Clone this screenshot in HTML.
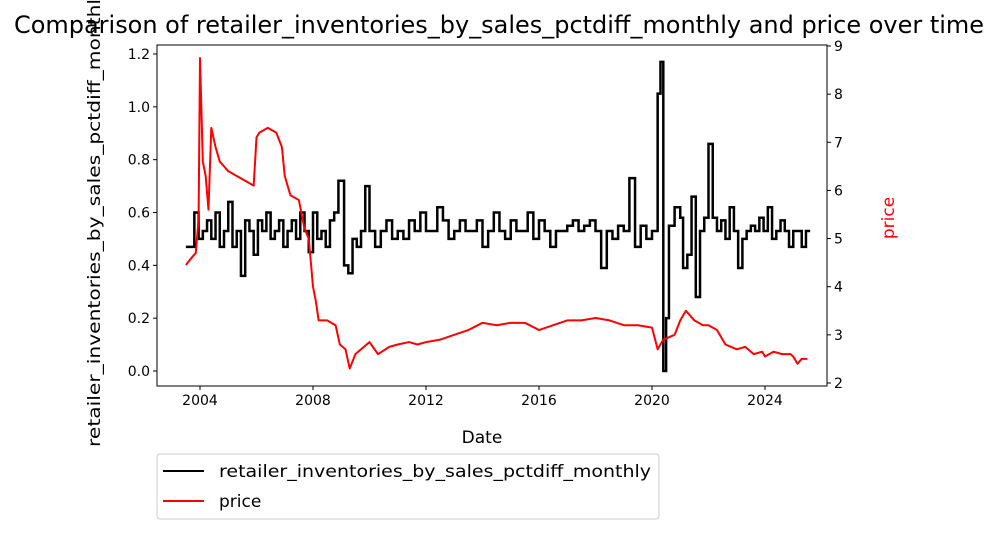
<!DOCTYPE html>
<html><head><meta charset="utf-8">
<style>
body{margin:0;background:#fff;font-family:"Liberation Sans","DejaVu Sans",sans-serif;overflow:hidden;}
svg{display:block;}
svg text{font-family:"DejaVu Sans","Liberation Sans",sans-serif;}
</style></head>
<body>
<svg id="chart" width="999" height="534" xmlns="http://www.w3.org/2000/svg"></svg>
<script>
const blackDates=[2003.5,2003.8,2003.95,2004.1,2004.25,2004.4,2004.55,2004.7,2004.85,2005.0,2005.15,2005.3,2005.45,2005.6,2005.75,2005.9,2006.05,2006.2,2006.35,2006.5,2006.65,2006.8,2006.95,2007.1,2007.25,2007.4,2007.55,2007.7,2007.85,2008.0,2008.15,2008.3,2008.45,2008.6,2008.75,2008.9,2009.1,2009.25,2009.4,2009.55,2009.7,2009.85,2010.0,2010.2,2010.4,2010.6,2010.8,2011.0,2011.2,2011.4,2011.6,2011.8,2012.0,2012.2,2012.4,2012.6,2012.8,2013.0,2013.2,2013.4,2013.6,2013.8,2014.0,2014.2,2014.4,2014.6,2014.8,2015.0,2015.2,2015.4,2015.6,2015.8,2016.0,2016.2,2016.4,2016.6,2016.8,2017.0,2017.2,2017.4,2017.6,2017.8,2018.0,2018.2,2018.4,2018.6,2018.8,2019.0,2019.2,2019.4,2019.6,2019.8,2020.0,2020.2,2020.3,2020.4,2020.5,2020.6,2020.8,2021.0,2021.1,2021.25,2021.4,2021.55,2021.7,2021.85,2022.0,2022.15,2022.3,2022.45,2022.6,2022.75,2022.9,2023.05,2023.2,2023.35,2023.5,2023.65,2023.8,2023.95,2024.1,2024.25,2024.4,2024.55,2024.7,2024.85,2025.0,2025.15,2025.3,2025.45];
const blackValues=[0.47,0.6,0.5,0.53,0.57,0.5,0.6,0.47,0.53,0.64,0.47,0.53,0.36,0.57,0.53,0.44,0.57,0.53,0.6,0.5,0.53,0.57,0.47,0.53,0.57,0.5,0.6,0.53,0.45,0.6,0.5,0.53,0.47,0.57,0.6,0.72,0.4,0.37,0.5,0.47,0.53,0.7,0.53,0.47,0.53,0.57,0.5,0.53,0.5,0.57,0.53,0.6,0.53,0.53,0.62,0.57,0.5,0.53,0.57,0.53,0.53,0.57,0.47,0.53,0.6,0.53,0.5,0.57,0.53,0.53,0.6,0.5,0.57,0.53,0.47,0.53,0.53,0.55,0.57,0.53,0.55,0.57,0.53,0.39,0.53,0.5,0.55,0.53,0.73,0.47,0.55,0.5,0.53,1.05,1.17,0.0,0.2,0.55,0.62,0.58,0.39,0.44,0.66,0.28,0.53,0.58,0.86,0.58,0.53,0.57,0.5,0.62,0.53,0.39,0.5,0.53,0.55,0.53,0.58,0.53,0.62,0.5,0.53,0.57,0.53,0.47,0.53,0.53,0.47,0.53];
const priceDates=[2003.5,2003.7,2003.85,2003.95,2004.0,2004.1,2004.2,2004.3,2004.4,2004.55,2004.7,2004.85,2005.0,2005.3,2005.6,2005.9,2006.0,2006.1,2006.4,2006.7,2006.9,2007.0,2007.2,2007.5,2007.7,2007.85,2008.0,2008.1,2008.2,2008.5,2008.8,2008.95,2009.15,2009.3,2009.5,2009.8,2010.0,2010.3,2010.7,2011.0,2011.4,2011.7,2012.0,2012.5,2013.0,2013.5,2014.0,2014.5,2015.0,2015.5,2016.0,2016.5,2017.0,2017.5,2018.0,2018.5,2019.0,2019.5,2020.0,2020.2,2020.4,2020.8,2021.0,2021.2,2021.5,2021.8,2022.0,2022.3,2022.6,2022.8,2023.0,2023.3,2023.6,2023.9,2024.0,2024.3,2024.6,2024.9,2025.0,2025.15,2025.3,2025.5];
const priceValues=[4.45,4.6,4.7,5.4,8.75,6.6,6.3,5.6,7.3,6.9,6.6,6.5,6.4,6.3,6.2,6.1,7.1,7.2,7.3,7.2,6.9,6.3,5.9,5.8,5.2,5.0,4.0,3.7,3.3,3.3,3.2,2.8,2.7,2.3,2.6,2.75,2.85,2.6,2.75,2.8,2.85,2.8,2.85,2.9,3.0,3.1,3.25,3.2,3.25,3.25,3.1,3.2,3.3,3.3,3.35,3.3,3.2,3.2,3.15,2.7,2.9,3.0,3.3,3.5,3.3,3.2,3.2,3.1,2.8,2.75,2.7,2.75,2.6,2.65,2.55,2.65,2.6,2.6,2.55,2.4,2.5,2.5];
const leftTicks=[0.0,0.2,0.4,0.6,0.8,1.0,1.2];
const rightTicks=[2,3,4,5,6,7,8,9];
const xTicks=[2004,2008,2012,2016,2020,2024];

const svg=document.getElementById('chart');
const NS='http://www.w3.org/2000/svg';
const L=157,R=827,T=45,B=386;
const xS=d=>200+(d-2004)*(765-200)/20;
const yL=v=>371-v*(371-54)/1.2;
const yR=v=>383-(v-2)*(383-46)/7;
function mk(tag,attrs,parent){const e=document.createElementNS(NS,tag);for(const k in attrs)e.setAttribute(k,attrs[k]);(parent||svg).appendChild(e);return e;}
function txt(s,attrs){const e=mk('text',attrs);e.textContent=s;return e;}

const yl=txt('retailer_inventories_by_sales_pctdiff_monthly',{x:0,y:0,'text-anchor':'start','font-size':'16.5','textLength':'460','lengthAdjust':'spacingAndGlyphs',transform:'translate(100,447) rotate(-90)'});



const t=txt('Comparison of retailer_inventories_by_sales_pctdiff_monthly and price over time',{x:499,y:33,'text-anchor':'middle','font-size':'24','textLength':'970','lengthAdjust':'spacingAndGlyphs'});



let d='';
blackDates.forEach((x,i)=>{const px=xS(x),py=yL(blackValues[i]);if(i===0)d+=`M${px},${py}`;else d+=`H${px}V${py}`;});
d+=`H${xS(2025.6)}`;
const bl=mk('path',{d:d,fill:'none',stroke:'#000','stroke-width':2.5});


let d2='';
priceDates.forEach((x,i)=>{d2+=(i?'L':'M')+xS(x)+','+yR(priceValues[i]);});
const rl=mk('path',{d:d2,fill:'none',stroke:'#ff0000','stroke-width':2,'stroke-linejoin':'round'});



const fr=mk('rect',{x:L,y:T,width:R-L,height:B-T,fill:'none',stroke:'#000','stroke-width':1});



leftTicks.forEach(v=>{const y=yL(v);mk('line',{x1:L-4,x2:L,y1:y,y2:y,stroke:'#000'});
const e=txt(v.toFixed(1),{x:L-7,y:y+5,'text-anchor':'end','font-size':'14'});

});
rightTicks.forEach(v=>{const y=yR(v);mk('line',{x1:R,x2:R+4,y1:y,y2:y,stroke:'#000'});
const e=txt(String(v),{x:R+7,y:y+5,'font-size':'14'});

});
xTicks.forEach(v=>{const x=xS(v);mk('line',{x1:x,x2:x,y1:B,y2:B+4,stroke:'#000'});
const e=txt(String(v),{x:x,y:B+19,'text-anchor':'middle','font-size':'14'});

});

const xl=txt('Date',{x:482,y:443,'text-anchor':'middle','font-size':'17'});


const yr=txt('price',{x:0,y:0,'text-anchor':'middle','font-size':'17',fill:'#ff0000',transform:'translate(894,218) rotate(-90)'});



const lg=mk('g',{});


mk('rect',{x:157,y:454,width:502,height:65,rx:3,fill:'#fff',stroke:'#ccc'},lg);
mk('line',{x1:163,x2:204,y1:471,y2:471,stroke:'#000','stroke-width':2},lg);
mk('line',{x1:163,x2:204,y1:501,y2:501,stroke:'#ff0000','stroke-width':2},lg);
const l1=mk('text',{x:219,y:477,'font-size':'17','textLength':'432','lengthAdjust':'spacingAndGlyphs'},lg);l1.textContent='retailer_inventories_by_sales_pctdiff_monthly';


const l2=mk('text',{x:219,y:507,'font-size':'17'},lg);l2.textContent='price';


</script>
</body></html>
